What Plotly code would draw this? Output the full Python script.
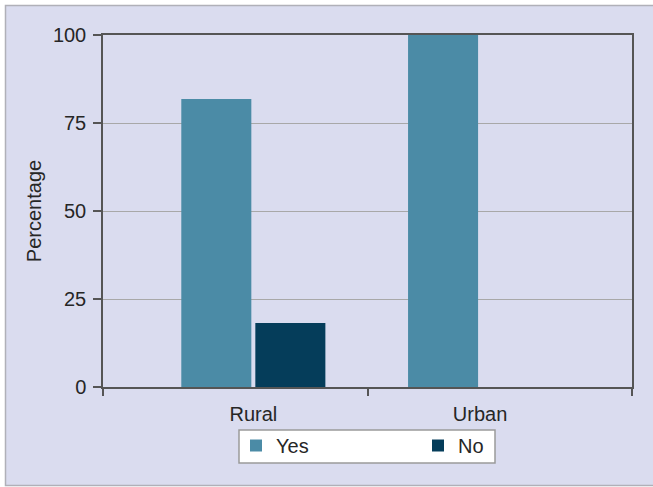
import plotly.graph_objects as go

categories = ["Rural", "Urban"]
yes_values = [81.8, 100.0]
no_values = [18.2, 0.0]
y_ticks = [0, 25, 50, 75, 100]

YES_COLOR = "#4b8ba6"
NO_COLOR = "#053d5a"
PANEL = "#dadcef"
FONT = "Liberation Sans, Arial, sans-serif"
TXT = "#262626"
FS = 20

W, H = 653, 487
L, R, T, B = 103, 21, 35, 100
pw, ph = W - L - R, H - T - B

fig = go.Figure()
fig.add_trace(go.Bar(name="Yes", x=categories, y=yes_values,
                     marker=dict(color=YES_COLOR, line=dict(width=0))))
fig.add_trace(go.Bar(name="No", x=categories, y=no_values,
                     marker=dict(color=NO_COLOR, line=dict(width=0))))
# helper axis for the boundary tick marks
fig.add_trace(go.Scatter(x=[], y=[], xaxis="x2", showlegend=False, hoverinfo="skip"))

def px_x(p):
    return (p - L) / pw

def px_y(p):
    return (H - B - p) / ph

fig.update_layout(
    width=W, height=H,
    margin=dict(l=L, r=R, t=T, b=B, pad=0),
    paper_bgcolor="white",
    plot_bgcolor="white",
    font=dict(family=FONT, size=FS, color=TXT),
    barmode="group",
    bargap=0.347,
    bargroupgap=0.054,
    showlegend=True,
    legend=dict(orientation="h", x=px_x(236), xanchor="left", y=px_y(426), yanchor="top",
                bgcolor="rgba(0,0,0,0)", borderwidth=0,
                font=dict(size=FS, color=TXT),
                entrywidth=137, entrywidthmode="pixels",
                traceorder="normal"),
    xaxis=dict(type="category", range=[-0.663, 1.670],
               showline=True, linecolor="#555555", linewidth=1.5, mirror=True,
               ticks="outside", ticklen=8, tickcolor="rgba(0,0,0,0)",
               showgrid=False, tickfont=dict(size=FS, color=TXT)),
    xaxis2=dict(overlaying="x", anchor="y", side="bottom", range=[0, 2],
                tickvals=[0, 1, 2], ticks="outside", ticklen=8, tickwidth=1.5,
                tickcolor="#555555", showticklabels=False, showgrid=False,
                showline=False, zeroline=False),
    yaxis=dict(range=[0, 100], tickvals=y_ticks, ticks="outside", ticklen=8,
               tickwidth=1.5, tickcolor="#555555", ticklabelstandoff=3,
               showline=True, linecolor="#555555", linewidth=1.5, mirror=True,
               showgrid=True, gridcolor="#a8a8a8", gridwidth=1, zeroline=False,
               tickfont=dict(size=FS, color=TXT),
               title=dict(text="Percentage", standoff=6, font=dict(size=FS, color=TXT))),
    shapes=[
        dict(type="rect", xref="paper", yref="paper",
             x0=px_x(5.5), x1=px_x(W + 10), y0=px_y(485.5), y1=px_y(5.5),
             fillcolor=PANEL, line=dict(color="#b0b0b8", width=1.5), layer="below"),
        dict(type="rect", xref="paper", yref="paper",
             x0=px_x(239), x1=px_x(495), y0=px_y(463), y1=px_y(430),
             fillcolor="white", line=dict(color="#9a9a9a", width=1.5), layer="below"),
    ],
)

fig.write_html("out.html")
